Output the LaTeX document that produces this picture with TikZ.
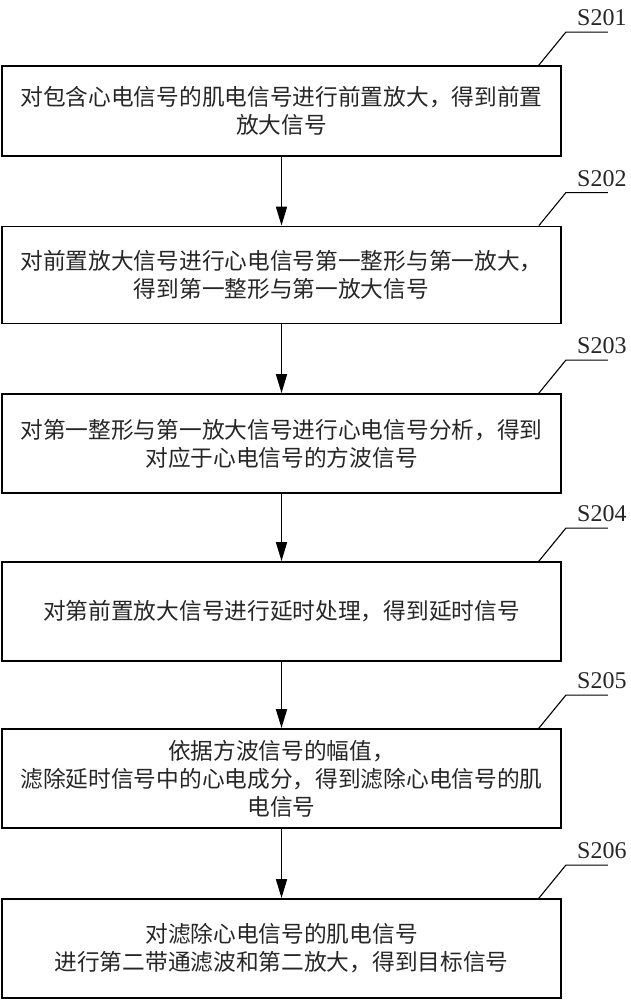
\documentclass[tikz,border=0pt]{standalone}
\usepackage{fontspec}
\newfontfamily\cjk{Noto Sans CJK SC}
\newfontfamily\lblfont{Liberation Serif}
\usetikzlibrary{arrows.meta,calc}
\begin{document}
\begin{tikzpicture}[x=1pt,y=1pt,
  stepbox/.style={draw=black,line width=1.8pt,rectangle,minimum width=559pt,
    inner sep=0pt,align=center,font=\cjk\fontsize{22.7}{28}\selectfont,text=black!85},
  flow/.style={line width=1.7pt,-{Triangle[length=19pt,width=11pt]}},
  leader/.style={line width=1.1pt},
  steplabel/.style={font=\lblfont\fontsize{24}{24}\selectfont,inner sep=0pt,text=black!85}]
\useasboundingbox (0,0) rectangle (631,-1000);
\node[stepbox,minimum height=90pt] (b1) at (281.5,-111)
  {对包含心电信号的肌电信号进行前置放大，得到前置\\放大信号};
\node[stepbox,minimum height=97pt] (b2) at (281.5,-275)
  {对前置放大信号进行心电信号第一整形与第一放大，\\得到第一整形与第一放大信号};
\node[stepbox,minimum height=99pt] (b3) at (281.5,-443.5)
  {对第一整形与第一放大信号进行心电信号分析，得到\\对应于心电信号的方波信号};
\node[stepbox,minimum height=99pt] (b4) at (281.5,-611.5)
  {对第前置放大信号进行延时处理，得到延时信号};
\node[stepbox,minimum height=99pt] (b5) at (281.5,-778.5)
  {依据方波信号的幅值，\\滤除延时信号中的心电成分，得到滤除心电信号的肌\\电信号};
\node[stepbox,minimum height=99pt] (b6) at (281.5,-948.5)
  {对滤除心电信号的肌电信号\\进行第二带通滤波和第二放大，得到目标信号};
\foreach \i/\j in {1/2,2/3,3/4,4/5,5/6}
  \draw[flow] (b\i.south) -- (b\j.north);
\foreach \i in {1,...,6}{
  \coordinate (p\i) at ($(b\i.north east)+(-23,0)$);
  \coordinate (q\i) at ($(b\i.north east)+(4,33)$);
  \coordinate (r\i) at ($(b\i.north east)+(46,33)$);
  \draw[leader] (p\i) -- (q\i) -- (r\i);
  \node[steplabel] (s\i) at ($(b\i.north east)+(40,47)$) {S20\i};
}
\end{tikzpicture}
\end{document}
